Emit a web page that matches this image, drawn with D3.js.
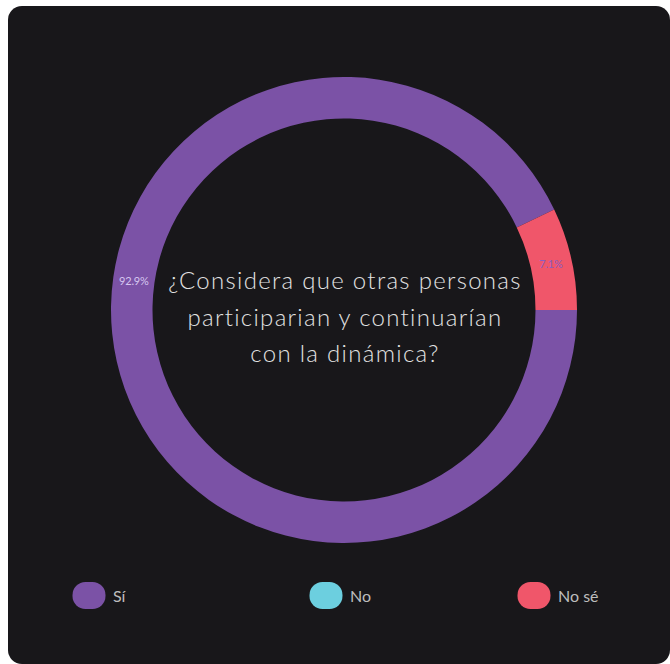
<!DOCTYPE html>
<html>
<head>
<meta charset="utf-8">
<script src="https://cdn.jsdelivr.net/npm/d3@7"></script>
<style>
  html, body { margin: 0; padding: 0; background: #ffffff; }
  svg { display: block; }
</style>
</head>
<body>
<svg id="chart" width="670" height="664"></svg>
<script>
// Survey answers and their shares (%)
const categories = ["Sí", "No", "No sé"];
const shares = [92.9, 0, 7.1];
const sliceColors = ["#7b52a6", "#6ccfdf", "#f0566a"];
const valueLabelColors = ["#d6c6f0", "#ffffff", "#8c5cc0"];
const questionLines = [
  "¿Considera que otras personas",
  "participarian y continuarían",
  "con la dinámica?"
];

const svg = d3.select("#chart");

// card
svg.append("rect")
  .attr("x", 8).attr("y", 6)
  .attr("width", 662).attr("height", 658)
  .attr("rx", 14).attr("ry", 14)
  .attr("fill", "#18171a");

const cx = 344, cy = 310;
const outerR = 233, innerR = 191.5;

const data = categories.map((c, i) => ({ name: c, value: shares[i], color: sliceColors[i], labelColor: valueLabelColors[i] }));

const pie = d3.pie()
  .sort(null)
  .value(d => d.value)
  .startAngle(Math.PI / 2)
  .endAngle(Math.PI / 2 + 2 * Math.PI);

const arc = d3.arc().innerRadius(innerR).outerRadius(outerR);
const arcs = pie(data);

const g = svg.append("g").attr("transform", `translate(${cx},${cy})`);

g.selectAll("path.slice")
  .data(arcs.filter(a => a.data.value > 0))
  .join("path")
  .attr("class", "slice")
  .attr("d", arc)
  .attr("fill", d => d.data.color);

// value labels on the ring; the large slice's label sits on the left side
const midR = (innerR + outerR) / 2;
const fmt = d3.format(".1f");
g.selectAll("text.val")
  .data(arcs.filter(a => a.data.value > 0))
  .join("text")
  .attr("class", "val")
  .each(function (d) {
    let ang = (d.startAngle + d.endAngle) / 2;
    if (d.endAngle - d.startAngle > Math.PI) ang = -82 * Math.PI / 180;
    const x = Math.sin(ang) * midR, y = -Math.cos(ang) * midR;
    d3.select(this).attr("x", x).attr("y", y);
  })
  .attr("text-anchor", "middle")
  .attr("dominant-baseline", "central")
  .attr("font-family", "Lato, 'Open Sans', sans-serif")
  .attr("font-size", 11)
  .attr("letter-spacing", -0.2)
  .attr("fill", d => d.data.labelColor)
  .text(d => fmt(d.data.value) + "%");

// question in the centre
const q = svg.append("text")
  .attr("text-anchor", "middle")
  .attr("font-family", "Lato, 'Open Sans', sans-serif")
  .attr("font-weight", 300)
  .attr("font-size", 24)
  .attr("letter-spacing", 1.3)
  .attr("fill", "#e2e2e2");
questionLines.forEach((line, i) => {
  q.append("tspan")
    .attr("x", 345)
    .attr("y", 289 + i * 36.5)
    .text(line);
});

// legend
const legendX = [89, 326, 534];
const items = svg.append("g").selectAll("g.item")
  .data(data)
  .join("g")
  .attr("class", "item")
  .attr("transform", (d, i) => `translate(${legendX[i]},595.5)`);
items.append("rect")
  .attr("x", -16.5).attr("y", -13.5)
  .attr("width", 33).attr("height", 27)
  .attr("rx", 13).attr("ry", 13)
  .attr("fill", d => d.color);
items.append("text")
  .attr("x", 24)
  .attr("y", 0)
  .attr("dominant-baseline", "central")
  .attr("font-family", "Lato, 'Open Sans', sans-serif")
  .attr("font-size", 16)
  .attr("fill", "#bdbdbd")
  .text(d => d.name);
</script>
</body>
</html>
